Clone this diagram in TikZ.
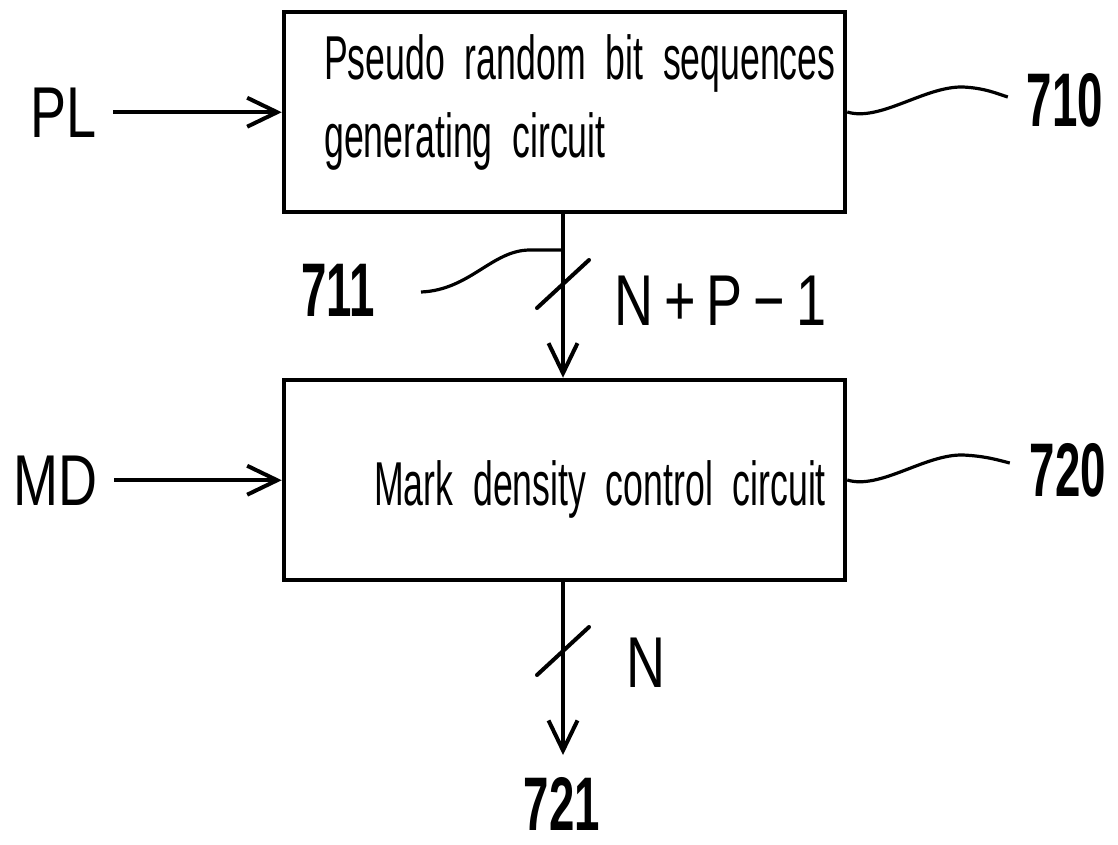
\documentclass[tikz,border=0pt]{standalone}
\usepackage{fontspec}
\setmainfont{Liberation Sans}
\newfontfamily\boxfont[FakeStretch=0.575,WordSpace=2]{Liberation Sans}
\newfontfamily\numfont[FakeStretch=0.6]{Liberation Sans}
\newfontfamily\lblfont[FakeStretch=0.75]{Liberation Sans}
\usetikzlibrary{arrows.meta,calc}
\tikzset{
  blk/.style={draw, line width=4.5pt, minimum width=561pt, inner sep=0pt},
  btxt/.style={font=\boxfont\fontsize{62}{70}\selectfont, inner sep=0pt},
  num/.style={font=\numfont\bfseries\fontsize{76}{80}\selectfont, inner sep=0pt},
  lbl/.style={font=\lblfont\fontsize{72}{80}\selectfont, inner sep=0pt},
  conn/.style={line width=4pt, -{Straight Barb[length=30pt,width=29pt]}},
  lead/.style={line width=3.2pt},
  slashmark/.style={line width=4pt, line cap=round}
}
\begin{document}
\begin{tikzpicture}[x=1pt,y=-1pt]
\useasboundingbox (0,0) rectangle (1118,844);
% blocks
\node[blk, minimum height=200pt] (b1) at (564.5,112) {};
\node[blk, minimum height=200pt] (b2) at (564.5,480) {};
% block texts
\node[btxt, anchor=base west] (t1) at (324,79) {Pseudo random bit sequences};
\node[btxt, anchor=base west] (t2) at (324,157) {generating circuit};
\node[btxt, anchor=base west] (t3) at (374,505) {Mark density control circuit};
% signal labels
\node[lbl, anchor=base west] (pl) at (30,137) {PL};
\node[lbl, anchor=base west] (md) at (13,505) {MD};
\node[lbl, anchor=base west] (npm) at (614,325) {N\hspace{11pt}+\hspace{11pt}P\hspace{11pt}−\hspace{11pt}1};
\node[lbl, anchor=base west] (nn) at (626,687) {N};
% reference numerals
\node[num] (n710) at (1065,100) {710};
\node[num] (n711) at (338,290) {711};
\node[num] (n720) at (1068,470) {720};
\node[num, anchor=base] (n721) at (562,830) {721};
% connectors
\draw[conn] ([xshift=17pt]pl.east) -- (pl.east -| b1.west);
\draw[conn] ([xshift=17pt]md.east) -- (md.east -| b2.west);
\draw[conn] (b1.south -| 563,0) -- (b2.north -| 563,0);
\coordinate (out) at (563,755);
\draw[conn] (b2.south -| out) -- (out);
% bus width slashes
\coordinate (s1) at (563,284);
\coordinate (s2) at (563,651);
\draw[slashmark] (s1) +(-26,24) -- +(26,-24);
\draw[slashmark] (s2) +(-26,24) -- +(26,-24);
% leader lines
\coordinate (j711) at (563,250);
\draw[lead] (b1.east) .. controls (880,122) and (925,86) .. (963,87) .. controls (985,88) and (998,94) .. ([xshift=-19pt,yshift=3pt]n710.west);
\draw[lead] ([xshift=46pt,yshift=-2pt]n711.east) .. controls (470,290) and (492,250) .. (530,250) -- (j711);
\draw[lead] (b2.east) .. controls (880,490) and (925,454) .. (963,455) .. controls (985,456) and (998,460) .. ([xshift=-20pt,yshift=7pt]n720.west);
\end{tikzpicture}
\end{document}
